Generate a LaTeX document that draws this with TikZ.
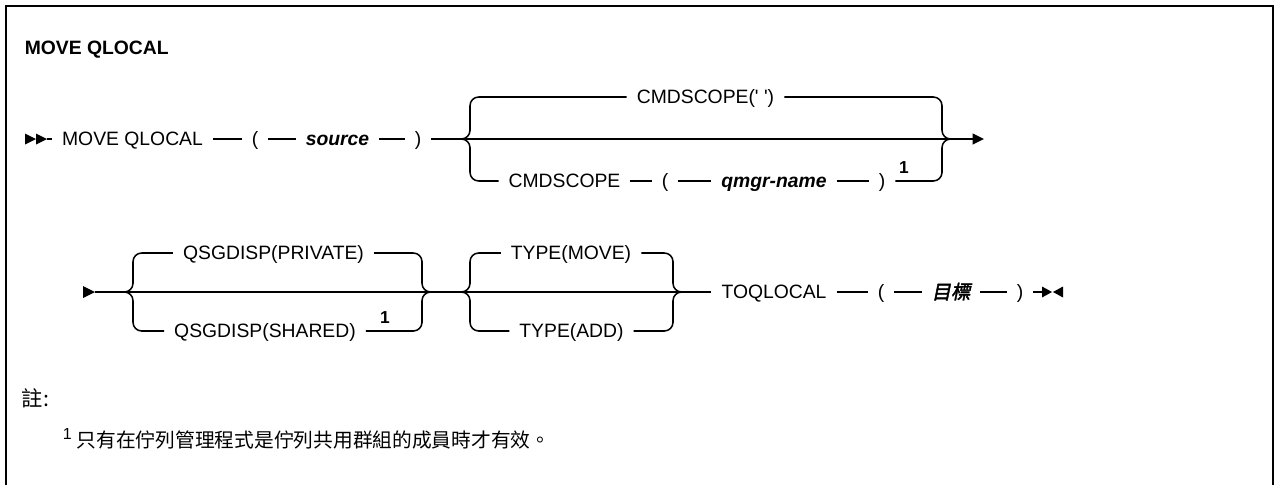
\documentclass[tikz,border=0pt]{standalone}
\usepackage{fontspec}
\setmainfont{Liberation Sans}[Ligatures=TeXOff]
\newfontfamily\cjk{Noto Sans CJK TC}
\newfontfamily\cjkbi{Noto Sans CJK TC}[FakeSlant=0.2,FakeBold=2]
\usetikzlibrary{arrows.meta}
\begin{document}
\begin{tikzpicture}[x=0.75pt,y=-0.75pt, line width=1.15pt,
  tok/.style={inner xsep=7pt, inner ysep=0pt, text height=10.4pt, text depth=0pt, font=\fontsize{14.5}{17}\selectfont},
  var/.style={tok, font=\fontsize{14.5}{17}\selectfont\bfseries\itshape},
  cjkvar/.style={tok, font=\cjkbi\fontsize{14.5}{17}\selectfont},
  supnum/.style={inner sep=0pt, font=\fontsize{13}{15}\selectfont\bfseries},
  rc/.style={rounded corners=6.5pt},
  endtip/.style={-{Triangle[length=8.5pt,width=8pt]}}
]
\useasboundingbox (0,0) rectangle (1274,485);
\draw[line width=1.6pt] (6,495) -- (6,6) -- (1273,6) -- (1273,495);

\node[anchor=west, inner sep=0pt, font=\fontsize{14.5}{17}\selectfont\bfseries] (title) at (24,50) {MOVE QLOCAL};

% ---------- line 1
\coordinate (s1) at (25,139);
\coordinate (s1e) at (47,139);
\fill (s1) ++(0,-5.5) -- ++(11,5.5) -- ++(-11,5.5) -- cycle;
\fill (s1) ++(11,-5.5) -- ++(11,5.5) -- ++(-11,5.5) -- cycle;
\node[tok] (mq) at (132.5,139) {MOVE QLOCAL};
\node[tok] (lp1) at (255,139) {(};
\node[var] (src) at (337.5,139) {source};
\node[tok] (rp1) at (418,139) {)};
\coordinate (e1) at (984,139);
\draw (s1e) -- (mq.west);
\draw (mq) -- (lp1);
\draw (lp1) -- (src);
\draw (src) -- (rp1);
\draw[endtip] (rp1.east) -- (e1);

\coordinate (b1p) at (460,139);
\coordinate (b1t) at (470,97);
\coordinate (b1b) at (470,181);
\coordinate (b1r) at (942,139);
\coordinate (b1o) at (952,139);
\node[tok] (cs1) at (705.5,97) {CMDSCOPE(' ')};
\node[tok] (cs2) at (564.5,181) {CMDSCOPE};
\node[tok] (lp2) at (665,181) {(};
\node[var] (qn) at (774,181) {qmgr-name};
\node[tok] (rp2) at (882,181) {)};
\node[supnum] (n1) at (904,168) {1};
\draw[rc] (b1p) -| (b1t) -- (cs1.west);
\draw[rc] (b1p) -| (b1b) -- (cs2.west);
\draw[rc] (cs1.east) -| (b1r) -- (b1o);
\draw (cs2) -- (lp2);
\draw (lp2) -- (qn);
\draw (qn) -- (rp2);
\draw[rc] (rp2.east) -| (b1r) -- (b1o);

% ---------- line 2
\coordinate (s2) at (83,292);
\coordinate (s2e) at (95,292);
\fill (s2) ++(0,-6) -- ++(12,6) -- ++(-12,6) -- cycle;
\coordinate (b2p) at (125,292);
\coordinate (b2t) at (133,253);
\coordinate (b2b) at (133,331);
\coordinate (b2r) at (422,292);
\coordinate (b2o) at (432,292);
\coordinate (b3p) at (462,292);
\coordinate (b3t) at (470,253);
\coordinate (b3b) at (470,331);
\coordinate (b3r) at (673,292);
\coordinate (b3o) at (683,292);
\node[tok] (qp) at (273.5,253) {QSGDISP(PRIVATE)};
\node[tok] (qs) at (265,331) {QSGDISP(SHARED)};
\node[supnum] (n2) at (385,318) {1};
\node[tok] (tm) at (571,253) {TYPE(MOVE)};
\node[tok] (ta) at (571.5,331) {TYPE(ADD)};
\node[tok] (tq) at (774,292) {TOQLOCAL};
\node[tok] (lp3) at (881,292) {(};
\node[cjkvar] (tgt) at (951,292) {目標};
\node[tok] (rp3) at (1020,292) {)};
\coordinate (e2) at (1042,292);

\draw (s2e) -- (tq.west);
\draw (tq) -- (lp3);
\draw (lp3) -- (tgt);
\draw (tgt) -- (rp3);
\draw (rp3.east) -- (e2);
\fill (e2) ++(0,-5.5) -- ++(10,5.5) -- ++(-10,5.5) -- cycle;
\fill (e2) ++(21,-5.5) -- ++(-10,5.5) -- ++(10,5.5) -- cycle;

\draw[rc] (b2p) -| (b2t) -- (qp.west);
\draw[rc] (b2p) -| (b2b) -- (qs.west);
\draw[rc] (qp.east) -| (b2r) -- (b2o);
\draw[rc] (qs.east) -| (b2r) -- (b2o);
\draw[rc] (b3p) -| (b3t) -- (tm.west);
\draw[rc] (b3p) -| (b3b) -- (ta.west);
\draw[rc] (tm.east) -| (b3r) -- (b3o);
\draw[rc] (ta.east) -| (b3r) -- (b3o);

% ---------- notes
\node[anchor=west, inner sep=0pt, font=\cjk\fontsize{16}{20}\selectfont] (note) at (21,398) {註:};
\node[anchor=west, inner sep=0pt, font=\fontsize{12}{14}\selectfont] (fnn) at (62,434) {1};
\node[anchor=west, inner sep=0pt, font=\cjk\fontsize{14.8}{19}\selectfont] (fnt) at (76,440) {只有在佇列管理程式是佇列共用群組的成員時才有效。};
\end{tikzpicture}
\end{document}
